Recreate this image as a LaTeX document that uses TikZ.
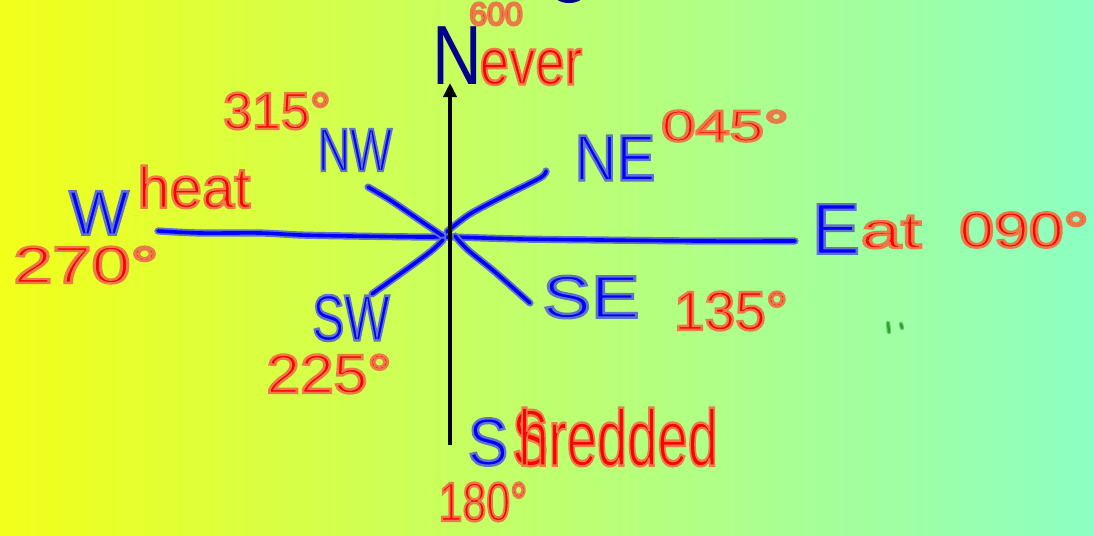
\documentclass[tikz,border=0pt]{standalone}
\usepackage{fontspec}
\setmainfont{Liberation Sans}
\usetikzlibrary{arrows.meta}
\definecolor{bgL}{RGB}{242,255,25}
\definecolor{bgM}{RGB}{192,255,95}
\definecolor{bgR}{RGB}{140,255,195}
\definecolor{penR}{RGB}{255,0,0}
\definecolor{haloR}{RGB}{236,122,72}
\definecolor{penB}{RGB}{0,0,255}
\definecolor{haloB}{RGB}{95,115,200}
\definecolor{navy}{RGB}{0,0,140}
\definecolor{penG}{RGB}{40,165,40}
\definecolor{haloG}{RGB}{110,200,110}
% outlined text: fill in pen colour, stroke in halo colour
\newcommand\redt[1]{{\color{penR}\special{pdf:literal direct 2 Tr 2.4 w 0.925 0.478 0.282 RG}#1\special{pdf:literal direct 0 Tr}}}
\newcommand\bluet[1]{{\color{penB}\special{pdf:literal direct 2 Tr 2.4 w 0.373 0.451 0.784 RG}#1\special{pdf:literal direct 0 Tr}}}
\newcommand\fs[1]{\fontsize{#1}{#1}\selectfont}
\begin{document}
\begin{tikzpicture}[x=1pt,y=-1pt,
  lbl/.style={inner sep=0pt, outer sep=0pt, anchor=center},
  penstroke/.style={draw=haloB, double=penB, double distance=3.6pt, line width=1.8pt, line cap=round, line join=round},
  greenstroke/.style={draw=haloG, double=penG, double distance=2.4pt, line width=1pt, line cap=round}]
\useasboundingbox (0,0) rectangle (1094,535);
\shade[left color=bgL, middle color=bgM, right color=bgR] (0,0) rectangle (1094,535);
% partial blue letter at top edge
\fill[navy] (569,-4) ellipse [x radius=14, y radius=7];
% compass lines
\coordinate (c) at (450,237);
\coordinate (wend) at (158,231);
\coordinate (eend) at (795,241);
\coordinate (nwend) at (368,187);
\coordinate (neend) at (546,171);
\coordinate (seend) at (530,303);
\coordinate (swend) at (372,294);
\draw[penstroke] plot[smooth] coordinates {(wend) (200,233) (260,233) (300,235) (350,236) (420,237) (c) (520,239) (600,240) (700,241) (eend)};
\draw[penstroke] plot[smooth] coordinates {(nwend) (390,200) (415,217) (443,236)};
\draw[penstroke] plot[smooth] coordinates {(neend) (540,178) (500,198) (470,214) (450,229) (447,232)};
\draw[penstroke] plot[smooth] coordinates {(455,236) (468,250) (495,272) (seend)};
\draw[penstroke] plot[smooth] coordinates {(443,240) (430,252) (400,274) (swend)};
% north-south arrow
\coordinate (sbase) at (450,445);
\coordinate (ntip) at (450,83);
\draw[line width=3.6pt, -{Triangle[length=14pt,width=13pt]}] (sbase) -- (ntip);
% labels
\node[lbl, text=navy, font=\fs{84}, xscale=0.82] (N) at (457,56) {N};
\node[lbl, font=\fs{32}] (n600) at (496,14) {\redt{600}};
\node[lbl, font=\fs{66}, xscale=0.8] (ever) at (531,67) {\redt{ever}};
\node[lbl, font=\fs{52}] (d315) at (277,111) {\redt{315°}};
\node[lbl, font=\fs{61}, xscale=0.73] (NW) at (355,150) {\bluet{NW}};
\node[lbl, font=\fs{65}, xscale=0.89] (NE) at (615,158) {\bluet{NE}};
\node[lbl, font=\fs{44}, xscale=1.4] (d045) at (725,126) {\redt{045°}};
\node[lbl, font=\fs{63}] (W) at (99,213) {\bluet{W}};
\node[lbl, font=\fs{58}] (heat) at (194,187) {\redt{heat}};
\node[lbl, font=\fs{52}, xscale=1.35] (d270) at (86,265) {\redt{270°}};
\node[lbl, font=\fs{72}] (E) at (836,229) {\bluet{E}};
\node[lbl, font=\fs{50}, xscale=1.45] (at) at (891,232) {\redt{at}};
\node[lbl, font=\fs{50}, xscale=1.25] (d090) at (1024,230) {\redt{090°}};
\node[lbl, font=\fs{65}, xscale=0.74] (SW) at (351,318) {\bluet{SW}};
\node[lbl, font=\fs{60}, xscale=1.21] (SE) at (591,297) {\bluet{SE}};
\node[lbl, font=\fs{55}] (d135) at (731,311) {\redt{135°}};
\node[lbl, font=\fs{55}, xscale=1.1] (d225) at (329,374) {\redt{225°}};
\node[lbl, font=\fs{67}, xscale=0.9] (S) at (488,442) {\bluet{S}};
\node[lbl, font=\fs{80}, xscale=0.68, anchor=west] (shredded) at (512,437) {\redt{S\kern-0.55em hredded}};
\node[lbl, font=\fs{55}, xscale=0.78] (d180) at (483,502) {\redt{180°}};
% small green marks
\coordinate (g1a) at (888,323); \coordinate (g1b) at (889,332);
\coordinate (g2a) at (901,324); \coordinate (g2b) at (902,328);
\draw[greenstroke] (g1a) -- (g1b);
\draw[greenstroke] (g2a) -- (g2b);
\end{tikzpicture}
\end{document}
